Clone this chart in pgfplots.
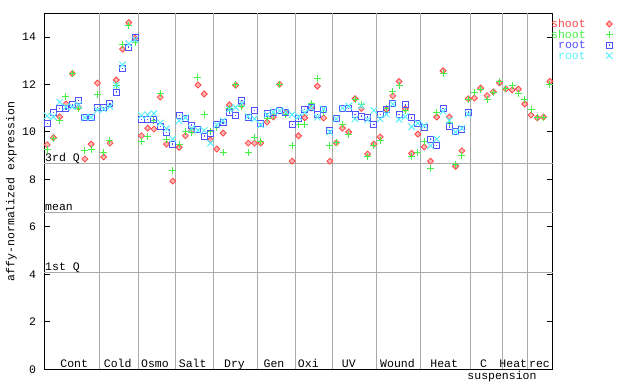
\documentclass[border=0pt]{standalone}
\usepackage{fontspec}
\setmainfont{Liberation Mono}
\usepackage{pgfplots}
\usepackage{pgfplotstable}
\pgfplotsset{compat=1.18}
\definecolor{cred}{RGB}{255,70,70}
\definecolor{cgreen}{RGB}{70,240,70}
\definecolor{cblue}{RGB}{80,80,255}
\definecolor{ccyan}{RGB}{90,240,255}
\definecolor{gridgray}{RGB}{170,170,170}
\pgfdeclareplotmark{bardiamond}{%
  \pgfpathmoveto{\pgfqpoint{0pt}{\pgfplotmarksize}}%
  \pgfpathlineto{\pgfqpoint{\pgfplotmarksize}{0pt}}%
  \pgfpathlineto{\pgfqpoint{0pt}{-\pgfplotmarksize}}%
  \pgfpathlineto{\pgfqpoint{-\pgfplotmarksize}{0pt}}%
  \pgfpathclose\pgfusepathqfillstroke}
\pgfdeclareplotmark{dotsquare}{%
  \pgfpathrectanglecorners{\pgfqpoint{-\pgfplotmarksize}{-\pgfplotmarksize}}{\pgfqpoint{\pgfplotmarksize}{\pgfplotmarksize}}%
  \pgfusepathqstroke
  \pgfpathrectanglecorners{\pgfqpoint{-0.6pt}{-0.6pt}}{\pgfqpoint{0.6pt}{0.6pt}}%
  \pgfusepathqfill}
\pgfplotstableread{
x r g b c
1 9.46 9.28 10.35 10.68
2 9.76 9.71 10.83 10.64
3 10.64 10.50 11.00 11.26
4 11.18 11.48 10.97 11.06
5 12.46 12.47 11.14 11.06
6 11.04 11.00 11.31 11.14
7 8.86 9.23 10.61 10.61
8 9.49 9.28 10.62 10.62
9 12.06 11.57 11.04 10.93
10 8.95 9.12 11.04 10.96
11 9.53 9.65 11.18 11.08
12 12.19 11.94 11.68 11.97
13 13.49 13.68 12.68 12.83
14 14.61 14.47 13.58 13.72
15 13.96 13.77 13.96 13.89
16 9.84 9.58 10.54 10.69
17 10.16 9.80 10.51 10.73
18 10.12 10.48 10.54 10.78
19 11.47 11.60 10.22 10.38
20 9.49 9.70 9.99 10.14
21 7.93 8.36 9.49 9.70
22 9.35 9.49 10.68 10.47
23 9.84 10.03 10.58 10.60
24 10.06 9.97 10.29 10.15
25 11.98 12.31 10.12 10.07
26 11.60 10.75 9.83 10.06
27 9.66 10.02 9.95 9.53
28 9.28 10.19 10.30 10.30
29 9.95 9.15 10.38 10.47
30 11.14 11.00 10.80 10.96
31 11.97 12.02 10.68 11.04
32 11.14 11.08 11.33 11.22
33 9.53 9.15 10.59 10.65
34 9.53 9.78 10.92 10.55
35 9.53 9.61 10.37 10.30
36 10.42 10.55 10.77 10.72
37 10.63 10.71 10.84 10.84
38 12.01 12.00 10.92 10.90
39 10.80 10.75 10.84 10.84
40 8.77 9.42 10.30 10.73
41 9.84 10.30 10.55 10.65
42 10.60 10.30 10.96 10.82
43 11.01 11.18 11.03 11.02
44 11.93 12.24 10.75 10.62
45 10.59 10.83 10.96 10.96
46 8.77 9.45 10.06 10.00
47 9.54 9.54 10.55 10.55
48 10.16 10.33 11.00 11.00
49 10.00 9.91 11.00 11.09
50 11.40 11.36 10.75 10.55
51 10.99 11.15 10.67 11.10
52 9.07 8.95 10.63 10.51
53 9.49 9.45 10.33 10.90
54 9.79 9.65 10.72 10.55
55 10.95 11.00 10.93 10.74
56 11.52 11.72 11.18 11.18
57 12.13 11.95 10.72 10.53
58 10.98 10.92 11.14 10.65
59 9.10 8.95 10.59 10.22
60 9.91 9.15 10.37 10.37
61 9.37 9.61 10.18 10.27
62 8.77 8.48 9.70 9.42
63 10.63 10.80 9.42 9.70
64 12.58 12.48 11.00 10.87
65 10.63 10.40 10.21 10.48
66 8.55 8.62 10.00 10.00
67 9.21 9.00 10.09 10.16
68 11.40 11.36 10.84 10.75
69 11.43 11.68 nan nan
70 11.85 11.78 nan nan
71 11.53 11.35 nan nan
72 11.69 11.68 nan nan
73 12.07 12.12 nan nan
74 11.81 11.84 nan nan
75 11.77 11.95 nan nan
76 11.81 11.60 nan nan
77 11.18 11.36 nan nan
78 10.71 10.96 nan nan
79 10.59 10.59 nan nan
80 10.63 10.63 nan nan
81 12.13 11.99 nan nan
}\data
\begin{document}
\fontsize{11.5}{13}\selectfont
\begin{tikzpicture}
\useasboundingbox (0pt,0pt) rectangle (640pt,384pt);
\begin{axis}[
  at={(44pt,14.7pt)}, anchor=south west,
  scale only axis, width=509pt, height=356pt,
  xmin=0.5, xmax=81.5, ymin=0, ymax=15,
  xtick=\empty,
  ytick={0,2,...,14},
  tick align=inside, major tick length=5.5pt,
  ytick pos=both, yticklabel pos=left,
  /pgf/number format/assume math mode=true,
  yticklabel style={font=\fontsize{11.5}{13}\selectfont, xshift=-4pt},
  tick style={black, line width=1pt},
  axis line style={black, line width=1pt},
  every axis y label/.style={at={(rel axis cs:0,0.5)}, xshift=-32.5pt, rotate=90, anchor=center},
  ylabel={affy-normalized expression},
  clip=false,
  legend plot pos=right,
  legend cell align=right,
  legend style={at={(rel axis cs:1,1)}, anchor=north west, xshift=-2pt, yshift=-7pt,
    draw=none, fill=none, inner sep=0pt, row sep=3.5pt, column sep=20pt,
    font=\fontsize{11.5}{13}\selectfont,
    nodes={inner sep=0pt, text height=7pt, text depth=0pt}},
]
\pgfplotsinvokeforeach{9.41,15.5,21.5,27.4,34.45,40.5,46.4,53.4,60.45,68.3,73.4,77.4}{
  \draw[gridgray, line width=1pt] (axis cs:#1,0) -- (axis cs:#1,15);
}
\pgfplotsinvokeforeach{4.09,6.62,8.69}{
  \draw[gridgray, line width=1pt] (axis cs:0.5,#1) -- (axis cs:81.5,#1);
}
\node[anchor=base west, inner sep=0pt, xshift=1pt, yshift=1.2pt] at (axis cs:0.5,8.69) {3rd Q};
\node[anchor=base west, inner sep=0pt, xshift=1pt, yshift=1.2pt] at (axis cs:0.5,6.62) {mean};
\node[anchor=base west, inner sep=0pt, xshift=1pt, yshift=2pt] at (axis cs:0.5,4.09) {1st Q};
\addplot[only marks, mark=bardiamond, mark size=3pt, draw=cred, fill=cred!40, line width=0.8pt] table[x=x, y=r] {\data};
\addlegendentry{\textcolor{cred}{shoot}}
\addplot[only marks, mark=+, mark size=3.5pt, draw=cgreen, line width=1pt] table[x=x, y=g] {\data};
\addlegendentry{\textcolor{cgreen}{shoot}}
\addplot[only marks, mark=dotsquare, mark size=3pt, draw=cblue, fill=cblue, line width=1pt] table[x=x, y=b] {\data};
\addlegendentry{\textcolor{cblue}{root}}
\addplot[only marks, mark=x, mark size=4.5pt, draw=ccyan, line width=1pt] table[x=x, y=c] {\data};
\addlegendentry{\textcolor{ccyan}{root}}
\node[anchor=base, inner sep=0pt] at (axis cs:5.31,0.07) {Cont};
\node[anchor=base, inner sep=0pt] at (axis cs:12.23,0.07) {Cold};
\node[anchor=base, inner sep=0pt] at (axis cs:18.16,0.07) {Osmo};
\node[anchor=base, inner sep=0pt] at (axis cs:24.16,0.07) {Salt};
\node[anchor=base, inner sep=0pt] at (axis cs:30.82,0.07) {Dry};
\node[anchor=base, inner sep=0pt] at (axis cs:37.1,0.07) {Gen};
\node[anchor=base, inner sep=0pt] at (axis cs:42.56,0.07) {Oxi};
\node[anchor=base, inner sep=0pt] at (axis cs:49.0,0.07) {UV};
\node[anchor=base, inner sep=0pt] at (axis cs:56.75,0.07) {Wound};
\node[anchor=base, inner sep=0pt] at (axis cs:64.19,0.07) {Heat};
\node[anchor=base, inner sep=0pt] at (axis cs:70.44,0.07) {C};
\node[anchor=base, inner sep=0pt] at (axis cs:75.18,0.07) {Heat};
\node[anchor=base, inner sep=0pt] at (axis cs:79.35,0.07) {rec};
\node[anchor=base, inner sep=0pt] at (axis cs:73.38,-0.41) {suspension};
\end{axis}
\end{tikzpicture}
\end{document}
